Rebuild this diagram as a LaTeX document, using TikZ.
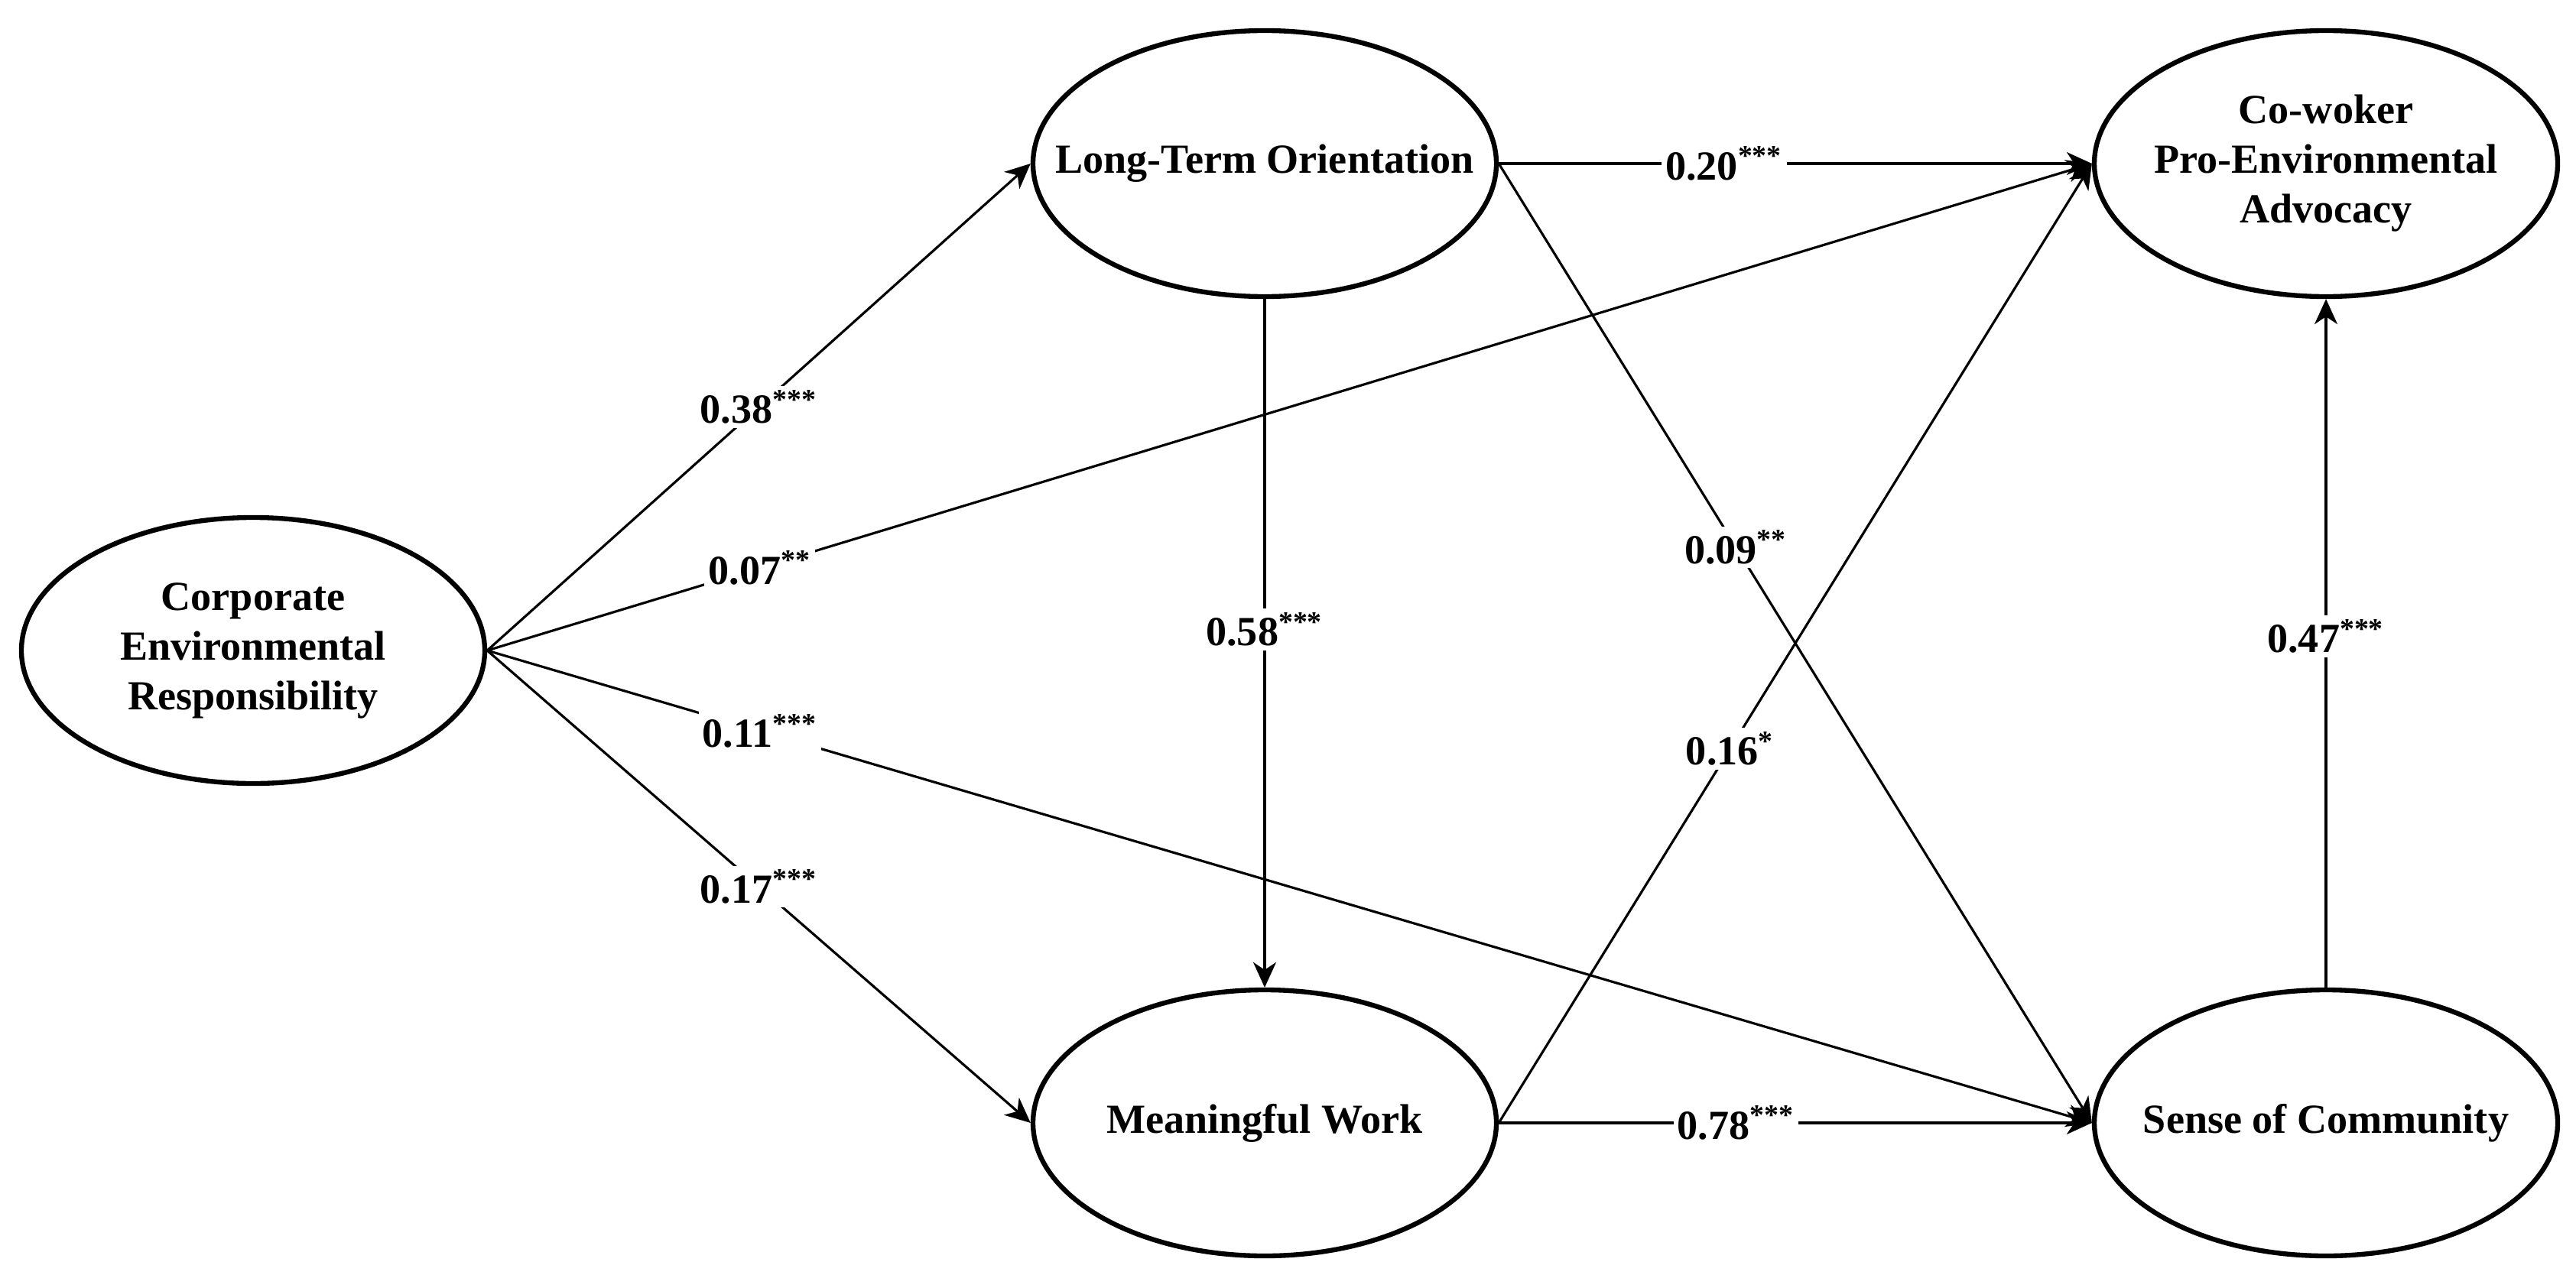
\documentclass[tikz,border=0pt]{standalone}
\usepackage{fontspec}
\setmainfont{Liberation Serif}
\usetikzlibrary{arrows.meta,shapes.geometric}

\begin{document}
\begin{tikzpicture}[
    font=\fontsize{15.4}{18.5}\selectfont\bfseries,
    latent/.style={ellipse,draw,line width=1.8pt,minimum width=6.06cm,minimum height=3.48cm,
                   inner xsep=-8mm,inner ysep=0pt,align=center},
    effect/.style={-{Stealth[length=3.3mm,width=3mm,inset=1mm]},line width=0.9pt},
    coef/.style={fill=white,inner sep=1.5pt}
  ]
  \useasboundingbox (0,0) rectangle (33.69,16.67);

  % Constructs
  \node[latent] (cer) at (3.31,8.16) {Corporate\\Environmental\\Responsibility};
  \node[latent] (lto) at (16.54,14.53) {Long-Term Orientation};
  \node[latent] (mw) at (16.54,1.98) {Meaningful Work};
  \node[latent] (cpa) at (30.42,14.53) {Co-woker\\Pro-Environmental\\Advocacy};
  \node[latent] (soc) at (30.42,1.98) {Sense of Community};

  % Paths from CER
  \draw[effect] (cer.east) -- node[coef,pos=0.5] {0.38\textsuperscript{***}} (lto.west);
  \draw[effect] (cer.east) -- node[coef,pos=0.17] {0.07\textsuperscript{**}} (cpa.west);
  \draw[effect] (cer.east) -- node[coef,pos=0.17] {0.11\textsuperscript{***}} (soc.west);
  \draw[effect] (cer.east) -- node[coef,pos=0.5] {0.17\textsuperscript{***}} (mw.west);

  % Paths between mediators and outcomes
  \draw[effect] (lto.south) -- node[coef,pos=0.48] {0.58\textsuperscript{***}} (mw.north);
  \draw[effect] (lto.east) -- node[coef,pos=0.38] {0.20\textsuperscript{***}} (cpa.west);
  \draw[effect] (lto.east) -- node[coef,pos=0.40] {0.09\textsuperscript{**}} (soc.west);
  \draw[effect] (mw.east) -- node[coef,pos=0.39] {0.16\textsuperscript{*}} (cpa.west);
  \draw[effect] (mw.east) -- node[coef,pos=0.40] {0.78\textsuperscript{***}} (soc.west);
  \draw[effect] (soc.north) -- node[coef,pos=0.51] {0.47\textsuperscript{***}} (cpa.south);
\end{tikzpicture}
\end{document}
